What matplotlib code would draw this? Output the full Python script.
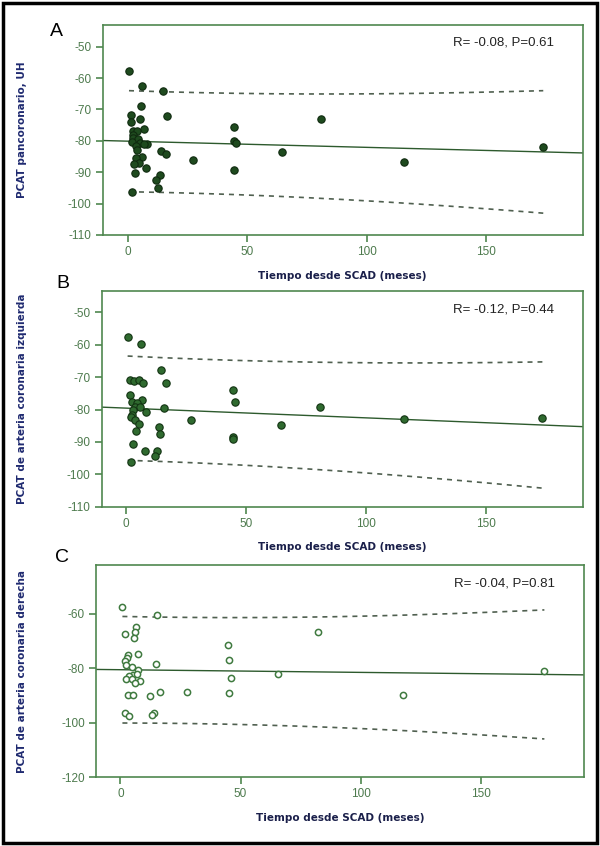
import numpy as np
import matplotlib
matplotlib.use("Agg")
from matplotlib import pyplot as plt
from matplotlib.patches import Rectangle

plt.rcParams['axes.unicode_minus'] = False
plt.rcParams['font.family'] = ['Liberation Sans', 'DejaVu Sans']

# Panel A: PCAT pancoronario
tiempo_a = [0.6, 5.9, 14.7, 5.5, 1.5, 16.7, 5.2, 1.5, 7.0, 2.4, 3.8, 2.1, 2.4, 4.5,
            1.7, 5.2, 3.5, 8.0, 6.9, 3.8, 14.0, 16.0, 5.9, 3.5, 27.2, 4.9, 2.7, 7.7,
            3.2, 13.6, 11.8, 12.7, 1.7, 44.7, 44.4, 45.4, 44.4, 64.7, 80.9, 173.9, 115.8]
pcat_a = [-57.7, -62.4, -64.1, -69.0, -71.7, -72.0, -73.1, -74.0, -76.2, -76.8, -76.8,
          -78.1, -79.2, -79.4, -80.3, -80.8, -81.6, -81.0, -81.1, -82.9, -83.1, -84.2,
          -85.0, -85.4, -86.1, -87.2, -87.5, -88.7, -90.3, -91.0, -92.5, -94.9, -96.4,
          -75.5, -80.1, -80.7, -89.2, -83.5, -73.0, -81.9, -86.6]

# Panel B: arteria coronaria izquierda
tiempo_b = [0.8, 6.3, 14.8, 1.8, 3.6, 5.7, 7.4, 16.9, 1.8, 2.5, 6.7, 4.6, 3.9, 6.0,
            16.1, 2.9, 8.5, 2.5, 2.1, 3.9, 5.7, 27.2, 14.0, 4.2, 14.4, 3.2, 8.1, 13.0,
            12.3, 2.1, 44.8, 45.5, 44.6, 44.8, 64.9, 81.0, 116.0, 173.6]
pcat_b = [-57.7, -59.9, -67.8, -70.9, -71.1, -70.9, -71.8, -71.9, -75.5, -77.6, -77.1,
          -77.9, -79.1, -79.1, -79.4, -80.1, -80.8, -81.7, -82.4, -83.2, -84.5, -83.2,
          -85.4, -86.7, -87.6, -90.6, -92.9, -92.7, -94.3, -96.2, -73.9, -77.8, -88.4,
          -89.0, -84.7, -79.2, -82.8, -82.5]

# Panel C: arteria coronaria derecha
tiempo_c = [0.8, 15.1, 6.3, 6.0, 1.7, 5.6, 7.2, 3.0, 2.6, 1.9, 2.3, 14.7, 4.7, 7.4,
            5.3, 3.5, 6.7, 2.2, 4.7, 8.1, 6.0, 16.3, 27.6, 3.3, 5.3, 12.3, 1.9, 3.6,
            14.1, 13.0, 44.9, 45.3, 46.2, 45.2, 65.6, 82.2, 117.8, 176.5]
pcat_c = [-57.5, -60.4, -64.9, -66.5, -67.4, -68.8, -74.7, -75.1, -76.3, -77.3, -78.8,
          -78.4, -79.7, -80.6, -82.4, -82.7, -82.1, -84.0, -84.0, -84.6, -85.5, -88.8,
          -88.8, -90.0, -90.0, -90.3, -96.3, -97.5, -96.3, -97.3, -71.5, -76.9, -83.7,
          -89.2, -82.1, -66.7, -90.0, -81.1]

# half-width of the 95% prediction band read at the first observation
semiancho = [16.1, 16.1, 19.6]

letras = ['A', 'B', 'C']
ylabels = ['PCAT pancoronario, UH', 'PCAT de arteria coronaria izquierda',
           'PCAT de arteria coronaria derecha']
stats = ['R= -0.08, P=0.61', 'R= -0.12, P=0.44', 'R= -0.04, P=0.81']
yticks = [[-50, -60, -70, -80, -90, -100, -110],
          [-50, -60, -70, -80, -90, -100, -110],
          [-60, -80, -100, -120]]
xticks = [0, 50, 100, 150]

green = '#4f874f'
ticktxt = '#4d7a4d'

fig = plt.figure(figsize=(6.0, 8.46), dpi=100)
W, H = 600, 846
# axes boxes in pixels: left, top, right, bottom
boxes = [(102.7, 25, 582.7, 235), (101.7, 290.7, 582.7, 506.7), (96, 565, 584, 777)]
letra_pos = [(56, 31), (63, 283), (62, 557)]
ylims = [(-110, -43.1), (-110, -43.3), (-120, -42)]
xlims = [(-10.4, 190.4), (-10.0, 190.4), (-10.2, 193)]

datos = [(tiempo_a, pcat_a), (tiempo_b, pcat_b), (tiempo_c, pcat_c)]

for i, (x, y) in enumerate(datos):
    l, t, r, b = boxes[i]
    ax = fig.add_axes([l / W, 1 - b / H, (r - l) / W, (b - t) / H])
    x = np.array(x)
    y = np.array(y)

    # linear fit and prediction band (shape from the data, width from the picture)
    slope, inter = np.polyfit(x, y, 1)
    n = len(x)
    sxx = np.sum((x - x.mean()) ** 2)
    forma = lambda v: np.sqrt(1 + 1 / n + (v - x.mean()) ** 2 / sxx)
    xs = np.linspace(x.min(), x.max(), 200)
    w = semiancho[i] * forma(xs) / forma(x.min())
    fit = inter + slope * xs

    xl = np.array(xlims[i])
    ax.plot(xl, inter + slope * xl, color='#2d5a2d', lw=1.0, zorder=2)
    ax.plot(xs, fit + w, color='#506050', lw=1.2, ls=(0, (3, 3)), zorder=2)
    ax.plot(xs, fit - w, color='#506050', lw=1.2, ls=(0, (3, 3)), zorder=2)

    if i == 0:
        ax.scatter(x, y, s=28, facecolor='#1e4a1e', edgecolor='#0f2a0f', lw=0.8, zorder=3)
    elif i == 1:
        ax.scatter(x, y, s=28, facecolor='#2f6a2f', edgecolor='#123312', lw=0.8, zorder=3)
    else:
        ax.scatter(x, y, s=20, facecolor='white', edgecolor='#3f7a3f', lw=1.1, zorder=3)

    ax.set_xlim(xlims[i])
    ax.set_ylim(ylims[i])
    ax.set_xticks(xticks)
    ax.set_yticks(yticks[i])
    for sp in ax.spines.values():
        sp.set_color(green)
        sp.set_linewidth(1.2)
    ax.tick_params(direction='out', length=5, width=1.2, color=green,
                   labelcolor=ticktxt, labelsize=8.5, pad=3)

    ax.text(0.94, 0.915, stats[i], transform=ax.transAxes, ha='right', va='center',
            fontsize=9.5, color='#222222')
    ax.set_xlabel('Tiempo desde SCAD (meses)', fontsize=7.5, fontweight='bold',
                  color='#1a1f4a', family=['Liberation Sans Narrow', 'DejaVu Sans'],
                  labelpad=9)

    fig.text(22 / W, 1 - ((t + b) / 2) / H, ylabels[i], rotation=90, ha='center',
             va='center', fontsize=7.5, fontweight='bold', color='#1f2a70',
             family=['Liberation Sans Narrow', 'DejaVu Sans'])
    lx, ly = letra_pos[i]
    fig.text(lx / W, 1 - ly / H, letras[i], ha='center', va='center',
             fontsize=14, color='black')

# outer black frame
fig.patches.append(Rectangle((3 / W, 3 / H), 1 - 6 / W, 1 - 6 / H, transform=fig.transFigure,
                             fill=False, edgecolor='black', lw=2.5))

fig.savefig('out.png', dpi=100)
